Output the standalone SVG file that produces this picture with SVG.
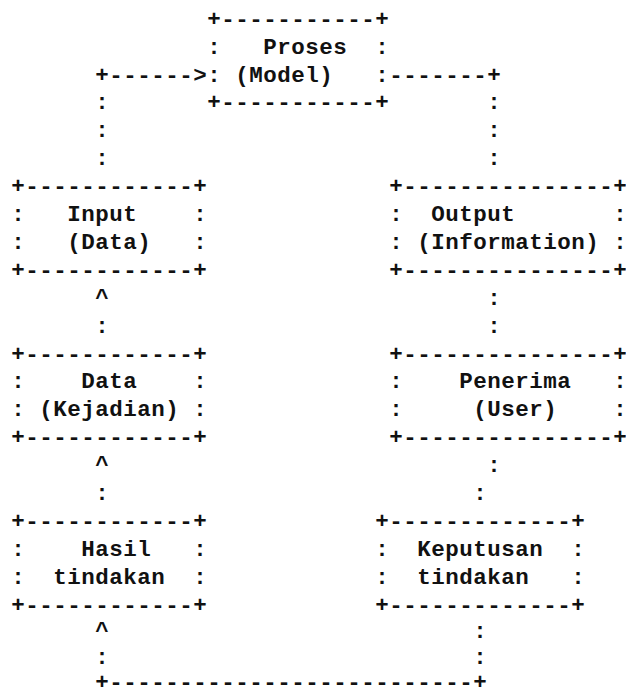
<svg xmlns="http://www.w3.org/2000/svg" width="626" height="696" viewBox="0 0 626 696" xml:space="preserve">
<style>
text { font-family: "Liberation Mono", "DejaVu Sans Mono", monospace; font-size: 22.5px; letter-spacing: 0.5px; font-weight: bold; fill: #111; white-space: pre; }
</style>
<rect width="626" height="696" fill="#fff"/>
<g id="connectors">
<text x="95.3" y="81.5">+------&gt;</text>
<text x="389.3" y="81.5">-------+</text>
<text x="95.3" y="109.4">:</text><text x="487.3" y="109.4">:</text>
<text x="95.3" y="137.3">:</text><text x="487.3" y="137.3">:</text>
<text x="95.3" y="165.2">:</text><text x="487.3" y="165.2">:</text>
<text x="95.3" y="304.7">^</text><text x="487.3" y="304.7">:</text>
<text x="95.3" y="332.6">:</text><text x="487.3" y="332.6">:</text>
<text x="95.3" y="472.1">^</text><text x="487.3" y="472.1">:</text>
<text x="95.3" y="500">:</text><text x="473.3" y="500">:</text>
<text x="95.3" y="638">^</text><text x="473.3" y="638">:</text>
<text x="95.3" y="663.5">:</text><text x="473.3" y="663.5">:</text>
<text x="95.3" y="689">+--------------------------+</text>
</g>
<g id="proses">
<text x="207.3" y="25.7">+-----------+</text>
<text x="207.3" y="53.6">:   Proses  :</text>
<text x="207.3" y="81.5">: (Model)   :</text>
<text x="207.3" y="109.4">+-----------+</text>
</g>
<g id="input">
<text x="11.3" y="193.1">+------------+</text>
<text x="11.3" y="221">:   Input    :</text>
<text x="11.3" y="248.9">:   (Data)   :</text>
<text x="11.3" y="276.8">+------------+</text>
</g>
<g id="output">
<text x="389.3" y="193.1">+---------------+</text>
<text x="389.3" y="221">:  Output       :</text>
<text x="389.3" y="248.9">: (Information) :</text>
<text x="389.3" y="276.8">+---------------+</text>
</g>
<g id="data">
<text x="11.3" y="360.5">+------------+</text>
<text x="11.3" y="388.4">:    Data    :</text>
<text x="11.3" y="416.3">: (Kejadian) :</text>
<text x="11.3" y="444.2">+------------+</text>
</g>
<g id="penerima">
<text x="389.3" y="360.5">+---------------+</text>
<text x="389.3" y="388.4">:    Penerima   :</text>
<text x="389.3" y="416.3">:     (User)    :</text>
<text x="389.3" y="444.2">+---------------+</text>
</g>
<g id="hasil">
<text x="11.3" y="527.9">+------------+</text>
<text x="11.3" y="555.8">:    Hasil   :</text>
<text x="11.3" y="583.7">:  tindakan  :</text>
<text x="11.3" y="611.6">+------------+</text>
</g>
<g id="keputusan">
<text x="375.3" y="527.9">+-------------+</text>
<text x="375.3" y="555.8">:  Keputusan  :</text>
<text x="375.3" y="583.7">:  tindakan   :</text>
<text x="375.3" y="611.6">+-------------+</text>
</g>
</svg>
